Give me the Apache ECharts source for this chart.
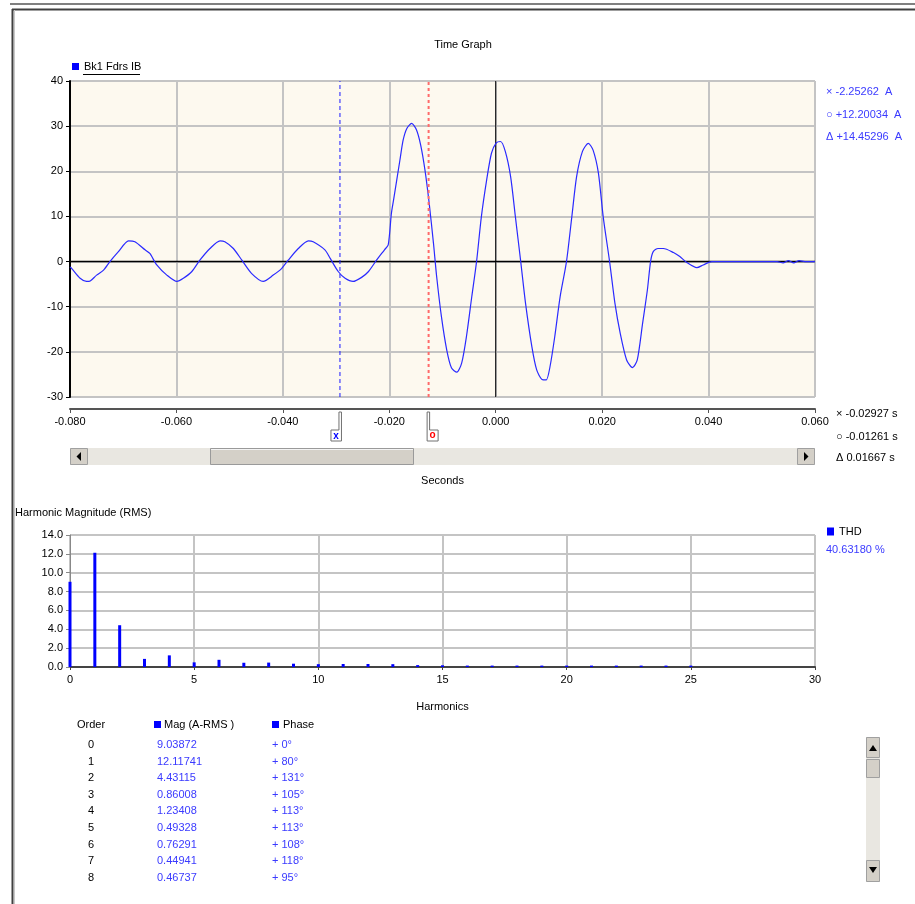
<!DOCTYPE html>
<html><head><meta charset="utf-8">
<script src="https://cdn.jsdelivr.net/npm/echarts@6.0.0/dist/echarts.min.js"></script>
<style>html,body{margin:0;padding:0;background:#fff}#c{width:915px;height:904px}</style>
</head><body><div id="c"></div>
<script>
// ---- Time graph data (seconds, amperes) ----
const waveT = [-0.0800,-0.0797,-0.0781,-0.0769,-0.0762,-0.0750,-0.0737,-0.0725,-0.0709,-0.0690,-0.0678,-0.0659,-0.0650,-0.0637,-0.0618,-0.0599,-0.0587,-0.0571,-0.0556,-0.0537,-0.0518,-0.0509,-0.0493,-0.0477,-0.0459,-0.0437,-0.0418,-0.0402,-0.0390,-0.0371,-0.0352,-0.0343,-0.0321,-0.0311,-0.0296,-0.0283,-0.0268,-0.0252,-0.0239,-0.0224,-0.0209,-0.0202,-0.0196,-0.0192,-0.0180,-0.0174,-0.0167,-0.0158,-0.0149,-0.0141,-0.0133,-0.0125,-0.0117,-0.0111,-0.0102,-0.0092,-0.0083,-0.0073,-0.0064,-0.0055,-0.0045,-0.0036,-0.0027,-0.0017,-0.0008,0.0001,0.0009,0.0018,0.0028,0.0037,0.0047,0.0056,0.0068,0.0077,0.0087,0.0095,0.0102,0.0111,0.0121,0.0133,0.0143,0.0152,0.0163,0.0174,0.0183,0.0193,0.0202,0.0214,0.0224,0.0234,0.0246,0.0257,0.0266,0.0276,0.0285,0.0291,0.0296,0.0305,0.0315,0.0334,0.0346,0.0359,0.0378,0.0390,0.0406,0.0450,0.0500,0.0529,0.0540,0.0550,0.0560,0.0570,0.0581,0.0600];
const waveI = [-1.2,-1.5,-3.7,-4.4,-4.3,-3.0,-1.9,0.0,2.2,4.6,4.4,2.6,1.8,-0.75,-3.0,-4.4,-3.7,-2.2,0.3,2.9,4.6,4.4,2.9,0.3,-2.6,-4.4,-3.0,-1.5,0.3,2.9,4.6,4.4,2.6,0.7,-2.2,-3.7,-4.4,-3.5,-2.2,0.3,2.6,3.7,10.7,13.6,22.5,26.9,29.5,30.6,29.2,25.8,20.3,12.9,4.1,-3.3,-12.2,-19.6,-23.6,-24.5,-22.5,-16.6,-7.8,0,9.9,18.1,24.0,26.3,26.6,24.4,18.8,9.9,0,-9.2,-18.9,-24.0,-26.1,-26.2,-23.3,-16.6,-7.8,0,9.9,18.8,24.4,26.2,24.7,19.6,9.9,0,-9.2,-15.9,-21.8,-23.5,-21.8,-13.7,-6.3,0,2.2,2.9,2.9,2.0,1.1,-0.2,-1.35,-0.75,0,0,0,0,-0.3,0.2,-0.3,0.2,0,0];
const seriesName = 'Bk1 Fdrs IB';
const cursorX = -0.02927;
const cursorO = -0.01261;
const readoutAmps = ['-2.25262  A', '+12.20034  A', '+14.45296  A'];
const readoutSecs = ['-0.02927 s', '-0.01261 s', '0.01667 s'];

// ---- Harmonics ----
const harmonicOrder = [0,1,2,3,4,5,6,7,8,9,10,11,12,13,14,15,16,17,18,19,20,21,22,23,24,25];
const harmonicMag = [9.03872,12.11741,4.43115,0.86008,1.23408,0.49328,0.76291,0.44941,0.46737,0.35,0.3,0.32,0.32,0.3,0.2,0.18,0.15,0.15,0.15,0.15,0.15,0.15,0.15,0.15,0.15,0.15];
const thdText = '40.63180 %';
const tableOrder = ['0','1','2','3','4','5','6','7','8'];
const tableMag = ['9.03872','12.11741','4.43115','0.86008','1.23408','0.49328','0.76291','0.44941','0.46737'];
const tablePhase = ['+ 0°','+ 80°','+ 131°','+ 105°','+ 113°','+ 113°','+ 108°','+ 118°','+ 95°'];

const FONT = '"Liberation Sans", Arial, sans-serif';
const BLUE_TXT = '#3a3aff';
const GRIDC = '#c4c4c4';
const T_MIN = -0.08, T_MAX = 0.06, I_MIN = -30, I_MAX = 40;

const chart = echarts.init(document.getElementById('c'), null, {renderer: 'canvas'});
const fmt3 = v => (Math.abs(v) < 1e-9 ? 0 : v).toFixed(3);
const refLine = (data, color, width, type, z) => ({
  type: 'line', xAxisIndex: 0, yAxisIndex: 0, data: data, showSymbol: false, silent: true,
  lineStyle: {color: color, width: width, type: type}, itemStyle: {color: color}, z: z, tooltip: {show: false}
});

chart.setOption({
  animation: false,
  textStyle: {fontFamily: FONT},
  legend: {
    data: [seriesName], left: 67, top: 56, icon: 'rect', itemWidth: 7, itemHeight: 7,
    textStyle: {fontSize: 11, color: '#000', fontFamily: FONT}, selectedMode: false
  },
  grid: [
    {left: 70, top: 81, width: 745, height: 316, show: true, backgroundColor: '#fdf9ef', borderWidth: 0},
    {left: 70, top: 535, width: 745, height: 132, show: false}
  ],
  xAxis: [
    {type: 'value', gridIndex: 0, min: T_MIN, max: T_MAX, interval: 0.02, offset: 12,
     axisLine: {show: true, onZero: false, lineStyle: {color: '#555', width: 2}},
     axisTick: {show: true, length: 4, lineStyle: {color: '#555'}},
     axisLabel: {fontSize: 11, color: '#000', margin: 7, formatter: fmt3, fontFamily: FONT},
     splitLine: {show: true, lineStyle: {color: GRIDC, width: 2}},
     name: 'Seconds', nameLocation: 'middle', nameGap: 66,
     nameTextStyle: {fontSize: 11, color: '#000', fontFamily: FONT}},
    {type: 'value', gridIndex: 1, min: 0, max: 30, interval: 5,
     axisLine: {show: true, onZero: false, lineStyle: {color: '#444', width: 2}},
     axisTick: {show: true, length: 3, lineStyle: {color: '#444'}},
     axisLabel: {fontSize: 11, color: '#000', margin: 7, fontFamily: FONT},
     splitLine: {show: true, lineStyle: {color: GRIDC, width: 2}},
     name: 'Harmonics', nameLocation: 'middle', nameGap: 34,
     nameTextStyle: {fontSize: 11, color: '#000', fontFamily: FONT}}
  ],
  yAxis: [
    {type: 'value', gridIndex: 0, min: I_MIN, max: I_MAX, interval: 10,
     axisLine: {show: true, onZero: false, lineStyle: {color: '#000', width: 2}},
     axisTick: {show: true, length: 4, lineStyle: {color: '#000'}},
     axisLabel: {fontSize: 11, color: '#000', margin: 7, fontFamily: FONT},
     splitLine: {show: true, lineStyle: {color: GRIDC, width: 2}}},
    {type: 'value', gridIndex: 1, min: 0, max: 14, interval: 2,
     axisLine: {show: true, onZero: false, lineStyle: {color: '#888', width: 1}},
     axisTick: {show: true, length: 4, lineStyle: {color: '#888'}},
     axisLabel: {fontSize: 11, color: '#000', margin: 7, fontFamily: FONT, formatter: v => v.toFixed(1)},
     splitLine: {show: true, lineStyle: {color: GRIDC, width: 2}}}
  ],
  series: [
    refLine([[T_MIN, 0], [T_MAX, 0]], '#000', 1.5, 'solid', 2),
    refLine([[0, I_MIN], [0, I_MAX]], '#000', 1, 'solid', 2),
    refLine([[cursorX, I_MIN], [cursorX, I_MAX]], '#1a1aff', 1, [4, 3], 2),
    refLine([[cursorO, I_MIN], [cursorO, I_MAX]], '#ff6a6a', 2, [3, 3], 4),
    {name: seriesName, type: 'line', xAxisIndex: 0, yAxisIndex: 0,
     data: waveT.map((t, i) => [t, waveI[i]]), showSymbol: false, smooth: 0.25,
     itemStyle: {color: '#0000ff'}, lineStyle: {color: '#2a2aff', width: 1.2}, z: 3},
    {name: 'Mag (A-RMS )', type: 'bar', xAxisIndex: 1, yAxisIndex: 1,
     data: harmonicOrder.map((h, i) => [h, harmonicMag[i]]), barWidth: 3,
     itemStyle: {color: '#0000ff'}, z: 3}
  ]
});

// ---- decorations ----
const g = [];
const txt = (x, y, s, opt) => g.push({type: 'text', x: x, y: y, silent: true,
  style: Object.assign({text: s, font: '11px ' + FONT, fill: '#000', textVerticalAlign: 'middle', textAlign: 'left'}, (opt || {}))});
const rect = (x, y, w, h, fill, stroke, lw) => g.push({type: 'rect', silent: true,
  shape: {x: x, y: y, width: w, height: h}, style: {fill: fill || 'none', stroke: stroke || null, lineWidth: lw || 1}});
const line = (x1, y1, x2, y2, c, w) => g.push({type: 'line', silent: true,
  shape: {x1: x1, y1: y1, x2: x2, y2: y2}, style: {stroke: c, lineWidth: w || 1}});

// window frame
line(10, 4, 915, 4, '#808080', 2);
line(12, 9.5, 915, 9.5, '#404040', 2);
line(12.5, 9, 12.5, 904, '#404040', 2);
line(14.5, 10, 14.5, 904, '#c8c8c8', 1);

// titles
txt(463, 45, 'Time Graph', {textAlign: 'center'});
line(83, 74.5, 140, 74.5, '#000', 1);
txt(15, 513, 'Harmonic Magnitude (RMS)');

// amp readouts
const readY = [91.5, 114.5, 137];
const sym = ['×', '○', 'Δ'];
readoutAmps.forEach((s, i) => txt(826, readY[i], sym[i] + ' ' + s, {fill: BLUE_TXT}));
const secY = [413.5, 436.5, 458];
readoutSecs.forEach((s, i) => txt(836, secY[i], sym[i] + ' ' + s));

// horizontal scrollbar
rect(70, 448, 745, 17, '#e9e7e1', null);
rect(70.5, 448.5, 17, 16, '#d4d0c8', '#a0a0a0');
rect(797.5, 448.5, 17, 16, '#d4d0c8', '#a0a0a0');
g.push({type: 'polygon', silent: true, shape: {points: [[81, 452], [81, 461], [76.5, 456.5]]}, style: {fill: '#000'}});
g.push({type: 'polygon', silent: true, shape: {points: [[804, 452], [804, 461], [808.5, 456.5]]}, style: {fill: '#000'}});
rect(210.5, 448.5, 203, 16, '#d4d0c8', '#9a9a9a');
line(211, 449.5, 413, 449.5, '#f4f4f4', 1);

// THD legend
rect(827, 527.5, 7, 8, '#0000ff');
txt(839, 532, 'THD');
txt(826, 550, thdText, {fill: BLUE_TXT});

// table
txt(91, 725, 'Order', {textAlign: 'center'});
rect(154, 721, 7, 7, '#0000ff');
txt(164, 725, 'Mag (A-RMS )');
rect(272, 721, 7, 7, '#0000ff');
txt(283, 725, 'Phase');
tableOrder.forEach((o, i) => {
  const y = 745 + i * 16.6;
  txt(91, y, o, {textAlign: 'center'});
  txt(157, y, tableMag[i], {fill: BLUE_TXT});
  txt(272, y, tablePhase[i], {fill: BLUE_TXT});
});

// vertical scrollbar
rect(866, 737, 14, 145, '#e9e7e1', null);
rect(866.5, 737.5, 13, 20, '#d4d0c8', '#a0a0a0');
rect(866.5, 759.5, 13, 18, '#d4d0c8', '#a0a0a0');
rect(866.5, 860.5, 13, 21, '#d4d0c8', '#a0a0a0');
g.push({type: 'polygon', silent: true, shape: {points: [[869, 751], [877, 751], [873, 745]]}, style: {fill: '#000'}});
g.push({type: 'polygon', silent: true, shape: {points: [[869, 867], [877, 867], [873, 873]]}, style: {fill: '#000'}});

// cursor flags below the time axis (positions from the axis scale)
const px = chart.convertToPixel({xAxisIndex: 0, yAxisIndex: 0}, [cursorX, 0])[0];
const po = chart.convertToPixel({xAxisIndex: 0, yAxisIndex: 0}, [cursorO, 0])[0];
g.push({type: 'polygon', silent: true, shape: {points: [[px - 1, 412], [px + 1.5, 412], [px + 1.5, 441], [px - 9, 441], [px - 9, 430], [px - 1, 430]]},
  style: {fill: '#fff', stroke: '#707070', lineWidth: 1}});
txt(px - 4, 436, 'x', {fill: '#0000ff', font: 'bold 10px ' + FONT, textAlign: 'center'});
g.push({type: 'polygon', silent: true, shape: {points: [[po - 1.5, 412], [po + 1, 412], [po + 1, 430], [po + 9.5, 430], [po + 9.5, 441], [po - 1.5, 441]]},
  style: {fill: '#fff', stroke: '#707070', lineWidth: 1}});
txt(po + 4, 435.5, 'o', {fill: '#ff0000', font: 'bold 10px ' + FONT, textAlign: 'center'});

chart.setOption({graphic: {elements: g}});
</script></body></html>
